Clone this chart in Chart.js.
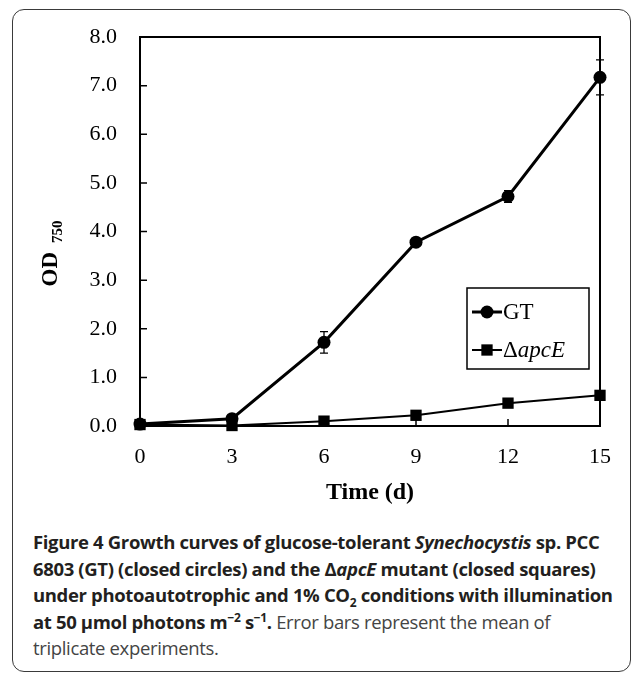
<!DOCTYPE html>
<html>
<head>
<meta charset="utf-8">
<script src="https://cdn.jsdelivr.net/npm/chart.js@4"></script>
<style>
  html, body { margin: 0; padding: 0; background: #fff; }
  body { width: 634px; height: 674px; position: relative; overflow: hidden; }
  #box { position: absolute; left: 12px; top: 9px; width: 619px; height: 663px;
         border: 1.5px solid #3a3a3a; border-radius: 12px; box-sizing: border-box; }
  #wrap { position: absolute; left: 0; top: 0; width: 634px; height: 520px; }
  #caption { position: absolute; left: 33px; top: 529px; width: 595px;
             font-family: "Open Sans", sans-serif; font-size: 18.5px; line-height: 26.5px;
             letter-spacing: -0.35px; color: #444; white-space: nowrap; }
  #caption b { color: #231f20; }
  #caption sup, #caption sub { font-size: 12px; line-height: 0; }
</style>
</head>
<body>
<div id="box"></div>
<div id="wrap"><canvas id="chart" width="634" height="520"></canvas></div>
<div id="caption">
  <b>Figure 4 Growth curves of glucose-tolerant <i>Synechocystis</i> sp. PCC<br>
  6803 (GT) (closed circles) and the Δ<i>apcE</i> mutant (closed squares)<br>
  under photoautotrophic and 1% CO<sub>2</sub> conditions with illumination<br>
  at 50 μmol photons m<sup>−2</sup> s<sup>−1</sup>.</b> Error bars represent the mean of<br>
  triplicate experiments.
</div>
<script>
// === Daten: OD750 über die Zeit (Tage) ===
const days   = [0, 3, 6, 9, 12, 15];
const gtOD   = [0.04, 0.15, 1.72, 3.78, 4.72, 7.17];
const gtErr  = [0.02, 0.03, 0.22, 0.07, 0.12, 0.36];
const apcOD  = [0.03, 0.01, 0.10, 0.22, 0.47, 0.63];
const apcErr = [0.01, 0.01, 0.02, 0.07, 0.04, 0.04];

const serif = '"Liberation Serif", "Times New Roman", serif';

const toXY = (xs, ys) => xs.map((x, i) => ({ x: x, y: ys[i] }));

// Rahmen + nach innen zeigende Ticks
const framePlugin = {
  id: 'frame',
  beforeDatasetsDraw(chart) {
    const { ctx, chartArea: a, scales } = chart;
    ctx.save();
    ctx.strokeStyle = '#000';
    ctx.lineWidth = 2;
    ctx.strokeRect(a.left, a.top, a.right - a.left, a.bottom - a.top);
    ctx.lineWidth = 1.5;
    ctx.beginPath();
    scales.y.ticks.forEach(t => {
      const y = scales.y.getPixelForValue(t.value);
      ctx.moveTo(a.left, y); ctx.lineTo(a.left + 7, y);
    });
    scales.x.ticks.forEach(t => {
      const x = scales.x.getPixelForValue(t.value);
      ctx.moveTo(x, a.bottom); ctx.lineTo(x, a.bottom - 7);
    });
    ctx.stroke();
    ctx.restore();
  }
};

// Fehlerbalken aus dataset.errors
const errorBarPlugin = {
  id: 'errorBars',
  beforeDatasetsDraw(chart) {
    const { ctx, scales } = chart;
    ctx.save();
    ctx.strokeStyle = '#000';
    ctx.lineWidth = 1.3;
    chart.data.datasets.forEach(ds => {
      ds.data.forEach((p, i) => {
        const e = ds.errors[i];
        const x = scales.x.getPixelForValue(p.x);
        const y1 = scales.y.getPixelForValue(p.y + e);
        const y2 = scales.y.getPixelForValue(p.y - e);
        ctx.beginPath();
        ctx.moveTo(x, y1); ctx.lineTo(x, y2);
        ctx.moveTo(x - 4, y1); ctx.lineTo(x + 4, y1);
        ctx.moveTo(x - 4, y2); ctx.lineTo(x + 4, y2);
        ctx.stroke();
      });
    });
    ctx.restore();
  }
};

// Legende mit kursivem "apcE" + y-Achsentitel mit Index
const labelPlugin = {
  id: 'labels',
  afterDraw(chart) {
    const { ctx, chartArea: a } = chart;
    ctx.save();
    // Legendenbox
    const bx = a.right - 133, by = a.top + 251, bw = 122, bh = 81;
    ctx.fillStyle = '#fff';
    ctx.fillRect(bx, by, bw, bh);
    ctx.strokeStyle = '#000';
    ctx.lineWidth = 1.5;
    ctx.strokeRect(bx, by, bw, bh);
    const rows = [by + 24, by + 62];
    chart.data.datasets.forEach((ds, i) => {
      const y = rows[i];
      ctx.lineWidth = ds.borderWidth;
      ctx.beginPath();
      ctx.moveTo(bx + 5, y); ctx.lineTo(bx + 35, y);
      ctx.stroke();
      ctx.fillStyle = '#000';
      Chart.helpers.drawPoint(ctx, { pointStyle: ds.pointStyle, radius: ds.pointRadius, borderWidth: 0 }, bx + 20, y);
      ctx.textBaseline = 'middle';
      ctx.textAlign = 'left';
      let tx = bx + 36;
      ctx.font = '23px ' + serif;
      if (i === 0) {
        ctx.fillText('GT', tx, y + 1);
      } else {
        ctx.fillText('Δ', tx, y + 1);
        tx += ctx.measureText('Δ').width;
        ctx.font = 'italic 23px ' + serif;
        ctx.fillText('apcE', tx, y + 1);
      }
    });
    // y-Titel "OD 750"
    ctx.translate(a.left - 83, (a.top + a.bottom) / 2 + 55);
    ctx.rotate(-Math.PI / 2);
    ctx.textBaseline = 'alphabetic';
    ctx.textAlign = 'left';
    ctx.fillStyle = '#000';
    ctx.font = 'bold 23px ' + serif;
    ctx.fillText('OD', 0, 0);
    const w = ctx.measureText('OD').width;
    ctx.font = 'bold 15px ' + serif;
    ctx.fillText('750', w + 9, 5);
    ctx.restore();
  }
};

new Chart(document.getElementById('chart'), {
  type: 'scatter',
  data: {
    datasets: [
      {
        label: 'GT',
        data: toXY(days, gtOD),
        errors: gtErr,
        showLine: true,
        borderColor: '#000',
        backgroundColor: '#000',
        borderWidth: 3,
        pointStyle: 'circle',
        pointRadius: 6.5,
        pointBorderWidth: 0,
        clip: false
      },
      {
        label: 'ΔapcE',
        data: toXY(days, apcOD),
        errors: apcErr,
        showLine: true,
        borderColor: '#000',
        backgroundColor: '#000',
        borderWidth: 2,
        pointStyle: 'rect',
        pointRadius: 8,
        pointBorderWidth: 0,
        clip: false
      }
    ]
  },
  options: {
    responsive: false,
    animation: false,
    layout: { padding: { left: 0, right: 34, top: 37, bottom: 0 } },
    plugins: { legend: { display: false }, tooltip: { enabled: false } },
    scales: {
      x: {
        type: 'linear', min: 0, max: 15,
        ticks: { stepSize: 3, color: '#000', font: { family: serif, size: 22 }, padding: 18 },
        grid: { display: false, drawTicks: false },
        border: { display: false },
        title: { display: true, text: 'Time (d)', color: '#000',
                 font: { family: serif, size: 24, weight: 'bold' }, padding: { top: 0, bottom: 13 } },
        afterFit: s => { s.height = 94; }
      },
      y: {
        min: 0, max: 8,
        ticks: { stepSize: 1, color: '#000', font: { family: serif, size: 22 }, padding: 23,
                 callback: v => v.toFixed(1) },
        grid: { display: false, drawTicks: false },
        border: { display: false },
        afterFit: s => { s.width = 140; }
      }
    }
  },
  plugins: [framePlugin, errorBarPlugin, labelPlugin]
});
</script>
</body>
</html>
